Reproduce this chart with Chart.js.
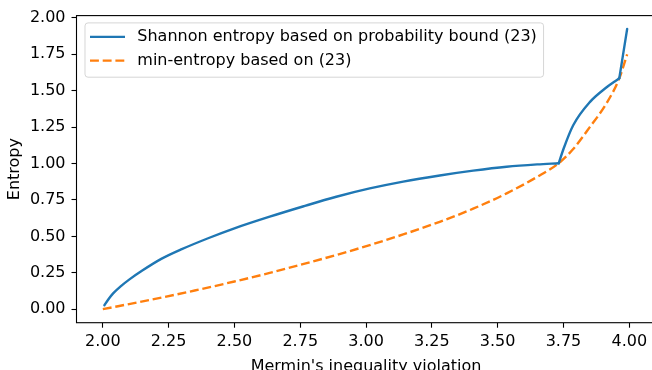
<!DOCTYPE html>
<html>
<head>
<meta charset="utf-8">
<script src="https://cdn.jsdelivr.net/npm/chart.js@4.4.1/dist/chart.umd.min.js"></script>
<style>
    html, body { margin: 0; padding: 0; background: #fff; overflow: hidden; }
    #wrap { width: 658px; height: 370px; }
</style>
</head>
<body>
<div id="wrap"><canvas id="entropyChart" width="658" height="370"></canvas></div>
<script>
// Shannon entropy from the probability bound (23), three smooth pieces joined at the corners
const shannonLowX = [2.006, 2.02, 2.04, 2.07, 2.1, 2.15, 2.222, 2.3, 2.4, 2.5, 2.634, 2.76, 2.887, 3.014, 3.141, 3.28, 3.407, 3.534, 3.65, 3.732];
const shannonLowY = [0.027, 0.065, 0.11, 0.16, 0.203, 0.265, 0.345, 0.412, 0.487, 0.555, 0.635, 0.705, 0.772, 0.829, 0.876, 0.918, 0.951, 0.978, 0.994, 1.002];
const shannonArcX = [3.732, 3.75, 3.787, 3.85, 3.914, 3.94, 3.962];
const shannonArcY = [1.002, 1.1, 1.263, 1.422, 1.524, 1.558, 1.585];
const shannonTopX = [3.962, 3.992];
const shannonTopY = [1.585, 1.925];

// min-entropy from (23)
const minX = [2.0, 2.175, 2.349, 2.5, 2.634, 2.76, 2.887, 3.014, 3.141, 3.28, 3.407, 3.534, 3.661, 3.732, 3.787, 3.85, 3.914, 3.962, 3.992];
const minY = [0.0, 0.062, 0.128, 0.19, 0.249, 0.309, 0.372, 0.44, 0.513, 0.6, 0.69, 0.795, 0.92, 1.002, 1.1, 1.25, 1.415, 1.585, 1.75];

const xTicks = [2.0, 2.25, 2.5, 2.75, 3.0, 3.25, 3.5, 3.75, 4.0];
const yTicks = [0.0, 0.25, 0.5, 0.75, 1.0, 1.25, 1.5, 1.75, 2.0];

const FONT = { family: "'DejaVu Sans', sans-serif", size: 16 };
const BLUE = '#1f77b4';
const ORANGE = '#ff7f0e';

function toPoints(xs, ys) {
    return xs.map(function (x, i) { return { x: x, y: ys[i] }; });
}

function shannonPiece(xs, ys, label) {
    return {
        label: label,
        data: toPoints(xs, ys),
        borderColor: BLUE,
        backgroundColor: BLUE,
        borderWidth: 2.4,
        borderCapStyle: 'round',
        pointRadius: 0,
        cubicInterpolationMode: 'monotone',
        fill: false
    };
}

// axes frame on all four sides, drawn over the lines
const framePlugin = {
    id: 'frame',
    afterDatasetsDraw: function (chart) {
        const a = chart.chartArea;
        const ctx = chart.ctx;
        ctx.save();
        ctx.strokeStyle = '#000';
        ctx.lineWidth = 1.1;
        ctx.strokeRect(a.left, a.top, a.right - a.left, a.bottom - a.top);
        ctx.restore();
    }
};

// legend box in the upper left corner of the plot (only labelled datasets)
const insideLegend = {
    id: 'insideLegend',
    afterDraw: function (chart) {
        const a = chart.chartArea;
        const ctx = chart.ctx;
        const sets = chart.data.datasets.filter(function (ds) { return ds.label; });
        const left = a.left + 8.5;
        const top = a.top + 7.3;
        const textX = left + 52.3;
        const rowY = [top + 14, top + 37.7];

        ctx.save();
        ctx.font = FONT.size + 'px ' + FONT.family;
        let maxW = 0;
        sets.forEach(function (ds) { maxW = Math.max(maxW, ctx.measureText(ds.label).width); });
        const w = textX + maxW + 6.7 - left;
        const h = 54.3;

        ctx.beginPath();
        ctx.roundRect(left, top, w, h, 3);
        ctx.fillStyle = 'rgba(255,255,255,0.8)';
        ctx.fill();
        ctx.strokeStyle = 'rgba(204,204,204,0.8)';
        ctx.lineWidth = 1;
        ctx.stroke();

        sets.forEach(function (ds, i) {
            ctx.beginPath();
            ctx.setLineDash(ds.borderDash || []);
            ctx.strokeStyle = ds.borderColor;
            ctx.lineWidth = ds.borderWidth;
            ctx.lineCap = 'butt';
            ctx.moveTo(left + 5, rowY[i]);
            ctx.lineTo(left + 40, rowY[i]);
            ctx.stroke();
            ctx.setLineDash([]);
            ctx.fillStyle = '#000';
            ctx.textBaseline = 'middle';
            ctx.textAlign = 'left';
            ctx.fillText(ds.label, textX, rowY[i]);
        });
        ctx.restore();
    }
};

new Chart(document.getElementById('entropyChart'), {
    type: 'line',
    data: {
        datasets: [
            shannonPiece(shannonLowX, shannonLowY, 'Shannon entropy based on probability bound (23)'),
            shannonPiece(shannonArcX, shannonArcY, ''),
            shannonPiece(shannonTopX, shannonTopY, ''),
            {
                label: 'min-entropy based on (23)',
                data: toPoints(minX, minY),
                borderColor: ORANGE,
                backgroundColor: ORANGE,
                borderWidth: 2.4,
                borderDash: [8.9, 3.8],
                pointRadius: 0,
                cubicInterpolationMode: 'monotone',
                fill: false
            }
        ]
    },
    options: {
        responsive: false,
        animation: false,
        devicePixelRatio: 1,
        layout: { padding: { top: 12.7, right: 2.4, left: 0, bottom: 0 } },
        plugins: {
            legend: { display: false },
            tooltip: { enabled: false }
        },
        scales: {
            x: {
                type: 'linear',
                min: 1.9,
                max: 4.1,
                border: { display: false },
                grid: { drawOnChartArea: false, drawTicks: true, tickLength: 5, tickColor: '#000', tickWidth: 1.1 },
                ticks: {
                    color: '#000',
                    font: FONT,
                    padding: 5,
                    maxRotation: 0,
                    callback: function (v) { return Number(v).toFixed(2); }
                },
                afterBuildTicks: function (scale) {
                    scale.ticks = xTicks.map(function (v) { return { value: v }; });
                },
                afterFit: function (scale) { scale.height = 47.3; },
                title: {
                    display: true,
                    text: "Mermin's inequality violation",
                    color: '#000',
                    font: { family: FONT.family, size: FONT.size, lineHeight: '6px' },
                    padding: 0
                }
            },
            y: {
                type: 'linear',
                min: -0.093,
                max: 2.016,
                border: { display: false },
                grid: { drawOnChartArea: false, drawTicks: true, tickLength: 5, tickColor: '#000', tickWidth: 1.1 },
                ticks: {
                    color: '#000',
                    font: FONT,
                    padding: 6,
                    callback: function (v) { return Number(v).toFixed(2); }
                },
                afterBuildTicks: function (scale) {
                    scale.ticks = yTicks.map(function (v) { return { value: v }; });
                },
                afterFit: function (scale) { scale.width = 76.5; },
                title: {
                    display: true,
                    text: 'Entropy',
                    color: '#000',
                    font: { family: FONT.family, size: FONT.size },
                    padding: { top: 5, bottom: 0 }
                }
            }
        }
    },
    plugins: [framePlugin, insideLegend]
});
</script>
</body>
</html>
